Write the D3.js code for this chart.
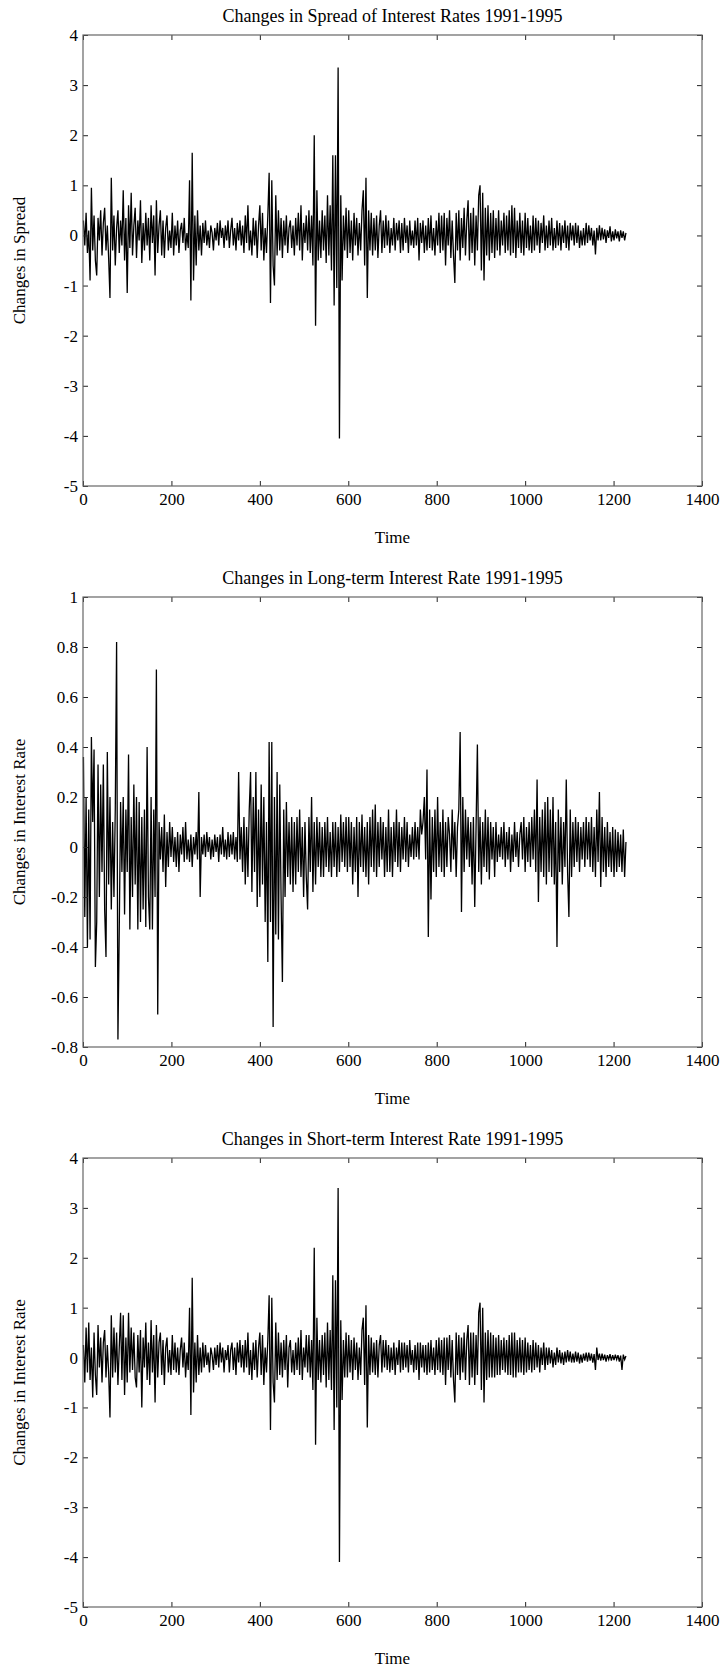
<!DOCTYPE html>
<html>
<head>
<meta charset="utf-8">
<script src="https://cdn.jsdelivr.net/npm/d3@7"></script>
<style>
body{margin:0;background:#fff;}
svg text{font-family:"Liberation Serif","Times New Roman",serif;fill:#000;}
</style>
</head>
<body>
<svg id="c" width="726" height="1674"></svg>
<script>
// Series sampled every 3 time units, starting at t = 1
const timeStart = 1, timeStep = 3;

const spreadValues = [
 0.3,-0.2,0.45,-0.35,0.1,-0.9,0.95,-0.3,0.4,-0.5,
 -0.8,0.35,-0.1,0.5,-0.4,0.25,0.55,-0.3,0.2,-0.45,
 -1.25,1.15,-0.3,0.4,-0.6,0.15,0.5,-0.35,0.3,-0.2,
 0.9,-0.5,0.35,-1.15,0.6,-0.25,0.85,-0.4,0.2,0.55,
 -0.45,0.3,-0.1,0.7,-0.55,0.25,-0.3,0.45,-0.2,0.35,
 -0.5,0.6,-0.15,0.4,-0.8,0.7,-0.35,0.2,0.5,-0.4,
 0.3,-0.45,0.15,0.4,-0.3,0.1,-0.25,0.45,-0.4,0.2,
 -0.2,0.3,-0.35,0.1,0.25,-0.15,0.35,-0.3,0.05,-0.25,
 1.1,-1.3,1.65,-0.9,0.4,-0.6,0.5,-0.3,0.2,-0.4,
 0.25,-0.15,0.3,-0.2,0.1,-0.25,0.2,0.05,-0.3,0.15,
 -0.1,0.25,-0.2,0.3,-0.05,0.15,-0.25,0.2,-0.1,0.3,
 -0.25,0.1,0.35,-0.2,0.15,-0.3,0.25,-0.1,0.3,-0.2,
 0.2,-0.35,0.4,-0.15,0.6,-0.3,0.1,-0.4,0.35,-0.2,
 0.3,-0.45,0.2,0.6,-0.3,0.45,-0.5,0.15,-0.35,0.4,
 1.25,-1.35,1.1,-0.6,-1.0,0.8,-0.4,0.5,-0.3,0.35,
 -0.45,0.3,-0.2,0.4,-0.35,0.15,0.3,-0.25,0.2,-0.4,
 0.35,-0.2,0.45,-0.3,0.6,-0.5,0.25,-0.15,0.4,-0.3,
 0.5,-0.35,0.4,-0.6,2.0,-1.8,0.9,-0.5,0.3,-0.45,
 0.5,-0.3,0.4,-0.55,0.8,-0.4,0.6,-0.7,1.6,-1.4,
 1.6,-1.05,3.35,-4.05,0.8,-0.9,0.4,-0.3,0.55,-0.45,
 0.5,-0.35,0.3,-0.5,0.45,-0.2,0.35,-0.4,0.25,-0.3,
 0.5,0.9,-0.6,1.15,-1.25,0.5,-0.3,0.45,-0.4,0.35,
 -0.3,0.4,-0.45,0.2,0.5,-0.35,0.3,-0.25,0.4,-0.2,
 0.3,-0.35,0.15,-0.2,0.35,-0.3,0.25,-0.1,0.3,-0.35,
 0.25,-0.3,0.35,-0.15,0.2,-0.35,0.3,-0.2,0.1,-0.25,
 0.3,-0.2,0.35,-0.5,0.25,-0.15,0.3,-0.35,0.2,-0.3,
 0.35,-0.25,0.4,-0.3,0.15,-0.4,0.3,-0.2,0.45,-0.35,
 0.4,-0.3,0.45,-0.6,0.35,-0.2,0.5,-0.45,0.3,-0.4,
 -0.95,0.45,-0.3,0.5,-0.5,0.35,-0.25,0.55,-0.4,0.3,
 0.7,-0.5,0.45,-0.35,0.55,-0.6,0.4,-0.3,0.8,1.0,
 -0.7,0.85,-0.9,0.55,-0.4,0.6,-0.5,0.45,-0.35,0.5,
 -0.45,0.35,-0.3,0.5,-0.4,0.3,-0.2,0.45,-0.35,0.4,
 -0.3,0.5,-0.4,0.6,-0.35,0.55,-0.45,0.3,-0.25,0.45,
 -0.35,0.3,-0.4,0.45,-0.25,0.35,-0.3,0.2,-0.35,0.4,
 -0.3,0.35,-0.2,0.3,-0.35,0.25,-0.15,0.4,-0.3,0.2,
 -0.25,0.3,-0.2,0.35,-0.3,0.15,-0.25,0.3,-0.2,0.25,
 -0.3,0.2,-0.15,0.3,-0.25,0.2,-0.3,0.25,-0.1,0.2,
 -0.2,0.25,-0.15,0.2,-0.25,0.1,-0.2,0.15,-0.2,0.25,
 -0.15,0.2,-0.1,0.15,-0.2,0.1,-0.38,0.15,-0.1,0.2,
 -0.1,0.15,-0.08,0.12,-0.15,0.1,-0.05,0.18,-0.12,0.08,
 -0.1,0.12,-0.06,0.08,-0.12,0.1,-0.05,0.08,-0.1,0.05
];

const longValues = [
 0.36,-0.28,0.2,-0.4,0.15,-0.37,0.44,0.1,0.39,-0.48,
 -0.3,0.33,-0.2,0.25,-0.1,0.33,-0.25,-0.44,0.38,-0.15,
 0.2,-0.25,0.1,-0.2,0.15,0.82,-0.77,-0.33,0.18,-0.1,
 0.2,-0.27,0.15,-0.1,0.37,-0.33,0.12,-0.2,0.25,-0.15,
 0.2,-0.33,0.18,-0.3,0.12,-0.25,0.15,-0.32,0.4,-0.2,
 -0.33,0.2,-0.33,0.15,-0.2,0.71,-0.67,0.1,-0.05,0.08,
 -0.1,0.13,-0.16,0.06,-0.08,0.1,-0.04,0.08,-0.06,0.04,
 -0.08,0.06,-0.1,0.05,-0.03,0.08,-0.06,0.1,-0.05,0.03,
 -0.06,0.05,-0.08,0.04,-0.03,0.06,-0.05,0.22,-0.2,0.04,
 -0.03,0.05,-0.04,0.06,-0.02,0.04,-0.05,0.03,-0.04,0.05,
 -0.02,0.04,-0.06,0.05,-0.03,0.08,-0.04,0.03,-0.05,0.06,
 -0.04,0.05,-0.03,0.06,-0.05,0.04,-0.06,0.3,-0.05,0.08,
 -0.1,0.12,-0.15,0.08,-0.12,0.15,0.3,-0.18,0.2,-0.1,
 0.3,-0.24,0.15,-0.2,0.25,-0.15,0.2,-0.3,0.1,-0.46,
 0.42,-0.3,0.42,-0.72,0.2,-0.35,0.3,-0.37,0.25,-0.2,
 -0.54,0.15,-0.2,0.18,-0.12,0.1,-0.15,0.12,-0.18,0.1,
 -0.15,0.12,-0.1,0.15,-0.12,0.08,-0.2,0.1,-0.12,-0.25,
 0.12,-0.1,0.2,-0.18,0.1,-0.15,0.12,-0.08,0.1,-0.12,
 0.08,-0.12,0.1,-0.08,0.12,-0.1,0.06,-0.12,0.1,-0.08,
 0.1,-0.12,0.08,-0.1,0.13,-0.06,0.1,-0.08,0.12,-0.1,
 0.12,-0.08,0.1,-0.15,0.08,-0.1,0.12,-0.2,0.1,-0.08,
 0.13,-0.1,0.08,-0.12,0.1,-0.15,0.12,-0.08,0.15,-0.1,
 0.17,-0.12,0.1,-0.08,0.12,-0.05,0.1,-0.12,0.08,-0.1,
 0.15,-0.1,0.08,-0.12,0.1,-0.06,0.15,-0.08,0.1,-0.1,
 0.08,-0.05,0.12,-0.06,0.1,-0.08,0.05,-0.04,0.08,-0.05,
 0.1,-0.04,0.08,-0.05,0.15,0.05,0.1,0.2,-0.05,0.31,
 -0.36,0.15,-0.21,0.12,-0.1,0.15,-0.12,0.2,-0.08,0.1,
 -0.1,0.15,-0.12,0.1,-0.08,0.12,0.05,-0.1,0.15,-0.05,
 0.1,-0.12,0.08,0.15,0.46,-0.26,0.2,-0.1,0.15,-0.05,
 0.12,-0.08,0.1,-0.15,0.12,-0.24,0.08,0.41,-0.1,0.12,
 -0.15,0.1,-0.08,0.15,-0.1,0.12,-0.13,0.1,-0.05,0.08,
 -0.12,0.1,-0.06,0.05,-0.04,0.08,-0.05,0.1,-0.08,0.06,
 -0.05,0.08,-0.1,0.05,-0.06,0.1,-0.04,0.06,-0.08,0.05,
 0.1,-0.05,0.12,-0.1,0.08,-0.06,0.1,-0.08,0.12,-0.05,
 0.15,-0.1,0.27,-0.22,0.12,-0.1,0.15,-0.12,0.18,-0.15,
 0.2,-0.1,0.15,-0.12,0.2,-0.15,0.1,-0.4,0.15,-0.1,
 0.12,-0.15,0.1,-0.08,0.27,-0.1,-0.28,0.15,-0.12,0.1,
 -0.08,0.12,-0.06,0.1,-0.1,0.08,-0.05,0.1,-0.08,0.12,
 -0.05,0.1,-0.08,0.12,-0.1,0.08,-0.12,0.15,-0.06,0.22,
 -0.16,0.12,-0.1,0.08,-0.12,0.1,-0.08,0.06,-0.1,0.08,
 -0.12,0.07,-0.1,0.06,-0.08,0.05,-0.1,0.07,-0.12,0.02
];

const shortValues = [
 0.25,-0.5,0.6,-0.3,0.7,-0.45,0.2,-0.8,0.5,-0.35,
 -0.75,0.65,-0.2,0.4,-0.5,0.3,0.55,-0.4,0.25,-0.3,
 -1.2,0.85,-0.4,0.6,-0.3,0.5,-0.55,0.2,0.9,-0.45,
 0.85,-0.75,0.4,-0.5,0.9,-0.3,0.6,-0.25,0.5,-0.4,
 -0.6,0.45,-0.3,0.55,-1.0,0.4,-0.2,0.7,-0.45,0.3,
 -0.55,0.75,-0.3,0.45,-0.9,0.65,-0.4,0.3,0.5,-0.35,
 0.35,-0.55,0.2,0.4,-0.3,0.15,-0.35,0.45,-0.25,0.3,
 -0.3,0.2,-0.35,0.15,0.4,-0.2,0.3,-0.4,0.1,-0.25,
 1.0,-1.15,1.6,-0.7,0.3,-0.5,0.45,-0.35,0.2,-0.3,
 0.3,-0.2,0.25,-0.15,0.1,-0.3,0.2,0.05,-0.25,0.2,
 -0.15,0.25,-0.2,0.3,-0.1,0.2,-0.3,0.15,-0.05,0.25,
 -0.3,0.15,0.3,-0.25,0.2,-0.35,0.3,-0.1,0.35,-0.2,
 0.25,-0.3,0.35,-0.2,0.5,-0.35,0.15,-0.45,0.3,-0.25,
 0.35,-0.4,0.2,0.5,-0.35,0.45,-0.55,0.2,-0.3,0.35,
 1.25,-1.45,1.2,-0.5,-0.9,0.7,-0.45,0.5,-0.35,0.3,
 -0.4,0.35,-0.25,0.45,-0.6,0.2,0.35,-0.3,0.15,-0.35,
 0.3,-0.25,0.4,-0.35,0.55,-0.45,0.2,-0.2,0.45,-0.3,
 0.45,-0.4,0.35,-0.65,2.2,-1.75,0.8,-0.45,0.35,-0.5,
 0.45,-0.35,0.5,-0.6,0.7,-0.45,0.55,-0.65,1.65,-1.45,
 1.55,-1.0,3.4,-4.1,0.75,-0.85,0.35,-0.4,0.5,-0.4,
 0.45,-0.3,0.35,-0.45,0.4,-0.25,0.3,-0.45,0.2,-0.35,
 0.55,0.8,-0.55,1.05,-1.4,0.45,-0.35,0.4,-0.3,0.3,
 -0.35,0.35,-0.4,0.25,0.45,-0.3,0.35,-0.2,0.35,-0.25,
 0.25,-0.3,0.2,-0.25,0.3,-0.35,0.2,-0.15,0.35,-0.3,
 0.3,-0.25,0.3,-0.2,0.25,-0.3,0.35,-0.15,0.15,-0.3,
 0.25,-0.25,0.3,-0.45,0.3,-0.2,0.25,-0.3,0.25,-0.35,
 0.3,-0.3,0.35,-0.25,0.2,-0.35,0.35,-0.25,0.4,-0.3,
 0.35,-0.35,0.4,-0.55,0.4,-0.25,0.45,-0.4,0.35,-0.45,
 -0.9,0.5,-0.35,0.45,-0.45,0.4,-0.3,0.5,-0.45,0.35,
 0.65,-0.55,0.5,-0.4,0.5,-0.55,0.45,-0.35,0.9,1.1,
 -0.65,1.0,-0.9,0.5,-0.45,0.55,-0.4,0.5,-0.4,0.45,
 -0.4,0.4,-0.35,0.45,-0.35,0.35,-0.25,0.4,-0.3,0.35,
 -0.35,0.45,-0.35,0.5,-0.4,0.5,-0.4,0.35,-0.3,0.4,
 -0.3,0.35,-0.35,0.4,-0.3,0.3,-0.25,0.25,-0.3,0.35,
 -0.25,0.3,-0.2,0.25,-0.3,0.2,-0.15,0.3,-0.25,0.2,
 -0.15,0.2,-0.12,0.15,-0.2,0.1,-0.15,0.2,-0.1,0.15,
 -0.12,0.1,-0.15,0.12,-0.1,0.15,-0.08,0.12,-0.1,0.08,
 -0.1,0.12,-0.08,0.1,-0.12,0.06,-0.1,0.08,-0.06,0.1,
 -0.08,0.1,-0.06,0.08,-0.1,0.07,-0.25,0.2,-0.05,0.08,
 -0.06,0.08,-0.05,0.06,-0.08,0.05,-0.04,0.07,-0.06,0.05,
 -0.05,0.06,-0.04,0.05,-0.08,0.04,-0.25,0.06,-0.04,0.03
];

const xTicks = [0,200,400,600,800,1000,1200,1400];
const yTicksSpread = [-5,-4,-3,-2,-1,0,1,2,3,4];
const yTicksLong = [-0.8,-0.6,-0.4,-0.2,0,0.2,0.4,0.6,0.8,1];
const yTicksShort = [-5,-4,-3,-2,-1,0,1,2,3,4];

const titles = ["Changes in Spread of Interest Rates 1991-1995",
                "Changes in Long-term Interest Rate 1991-1995",
                "Changes in Short-term Interest Rate 1991-1995"];
const yLabels = ["Changes in Spread","Changes in Interest Rate","Changes in Interest Rate"];
const xLabel = "Time";

const panels = [
  {values: spreadValues, yDomain:[-5,4], yTicks: yTicksSpread, top:35, bottom:486},
  {values: longValues, yDomain:[-0.8,1], yTicks: yTicksLong, top:597, bottom:1047},
  {values: shortValues, yDomain:[-5,4], yTicks: yTicksShort, top:1158, bottom:1607}
];

const svg = d3.select("#c");
const left = 83, right = 702;
const fmt = d => String(+d.toFixed(1));

panels.forEach((p, k) => {
  const x = d3.scaleLinear().domain([0,1400]).range([left,right]);
  const y = d3.scaleLinear().domain(p.yDomain).range([p.bottom,p.top]);
  const g = svg.append("g");

  const line = d3.line().x((d,i) => x(timeStart + i*timeStep)).y(d => y(d));
  g.append("path").datum(p.values)
    .attr("d", line).attr("fill","none").attr("stroke","#000")
    .attr("stroke-width",1.3);

  const style = sel => {
    sel.select(".domain").remove();
    sel.selectAll(".tick line").attr("stroke","#222").attr("stroke-width",1);
    sel.selectAll(".tick text").style("font-size","17px").style("font-family",'"Liberation Serif",serif').attr("fill","#000");
  };

  g.append("g").attr("transform",`translate(0,${p.bottom})`)
    .call(d3.axisBottom(x).tickValues(xTicks).tickSize(-5).tickPadding(7).tickFormat(d3.format("d")))
    .call(style);
  g.append("g").attr("transform",`translate(0,${p.top})`)
    .call(d3.axisTop(x).tickValues(xTicks).tickSize(-5).tickFormat(""))
    .call(style);
  g.append("g").attr("transform",`translate(${left},0)`)
    .call(d3.axisLeft(y).tickValues(p.yTicks).tickSize(-5).tickPadding(5).tickFormat(fmt))
    .call(style);
  g.append("g").attr("transform",`translate(${right},0)`)
    .call(d3.axisRight(y).tickValues(p.yTicks).tickSize(-5).tickFormat(""))
    .call(style);

  g.append("rect").attr("x",left).attr("y",p.top)
    .attr("width",right-left).attr("height",p.bottom-p.top)
    .attr("fill","none").attr("stroke","#666").attr("stroke-width",1.2);

  g.append("text").attr("x",(left+right)/2).attr("y",p.top-13)
    .attr("text-anchor","middle").style("font-size","18px").text(titles[k]);
  g.append("text").attr("x",(left+right)/2).attr("y",p.bottom+57)
    .attr("text-anchor","middle").style("font-size","17px").text(xLabel);
  g.append("text")
    .attr("transform",`translate(25,${(p.top+p.bottom)/2}) rotate(-90)`)
    .attr("text-anchor","middle").style("font-size","17px").text(yLabels[k]);
});
</script>
</body>
</html>
